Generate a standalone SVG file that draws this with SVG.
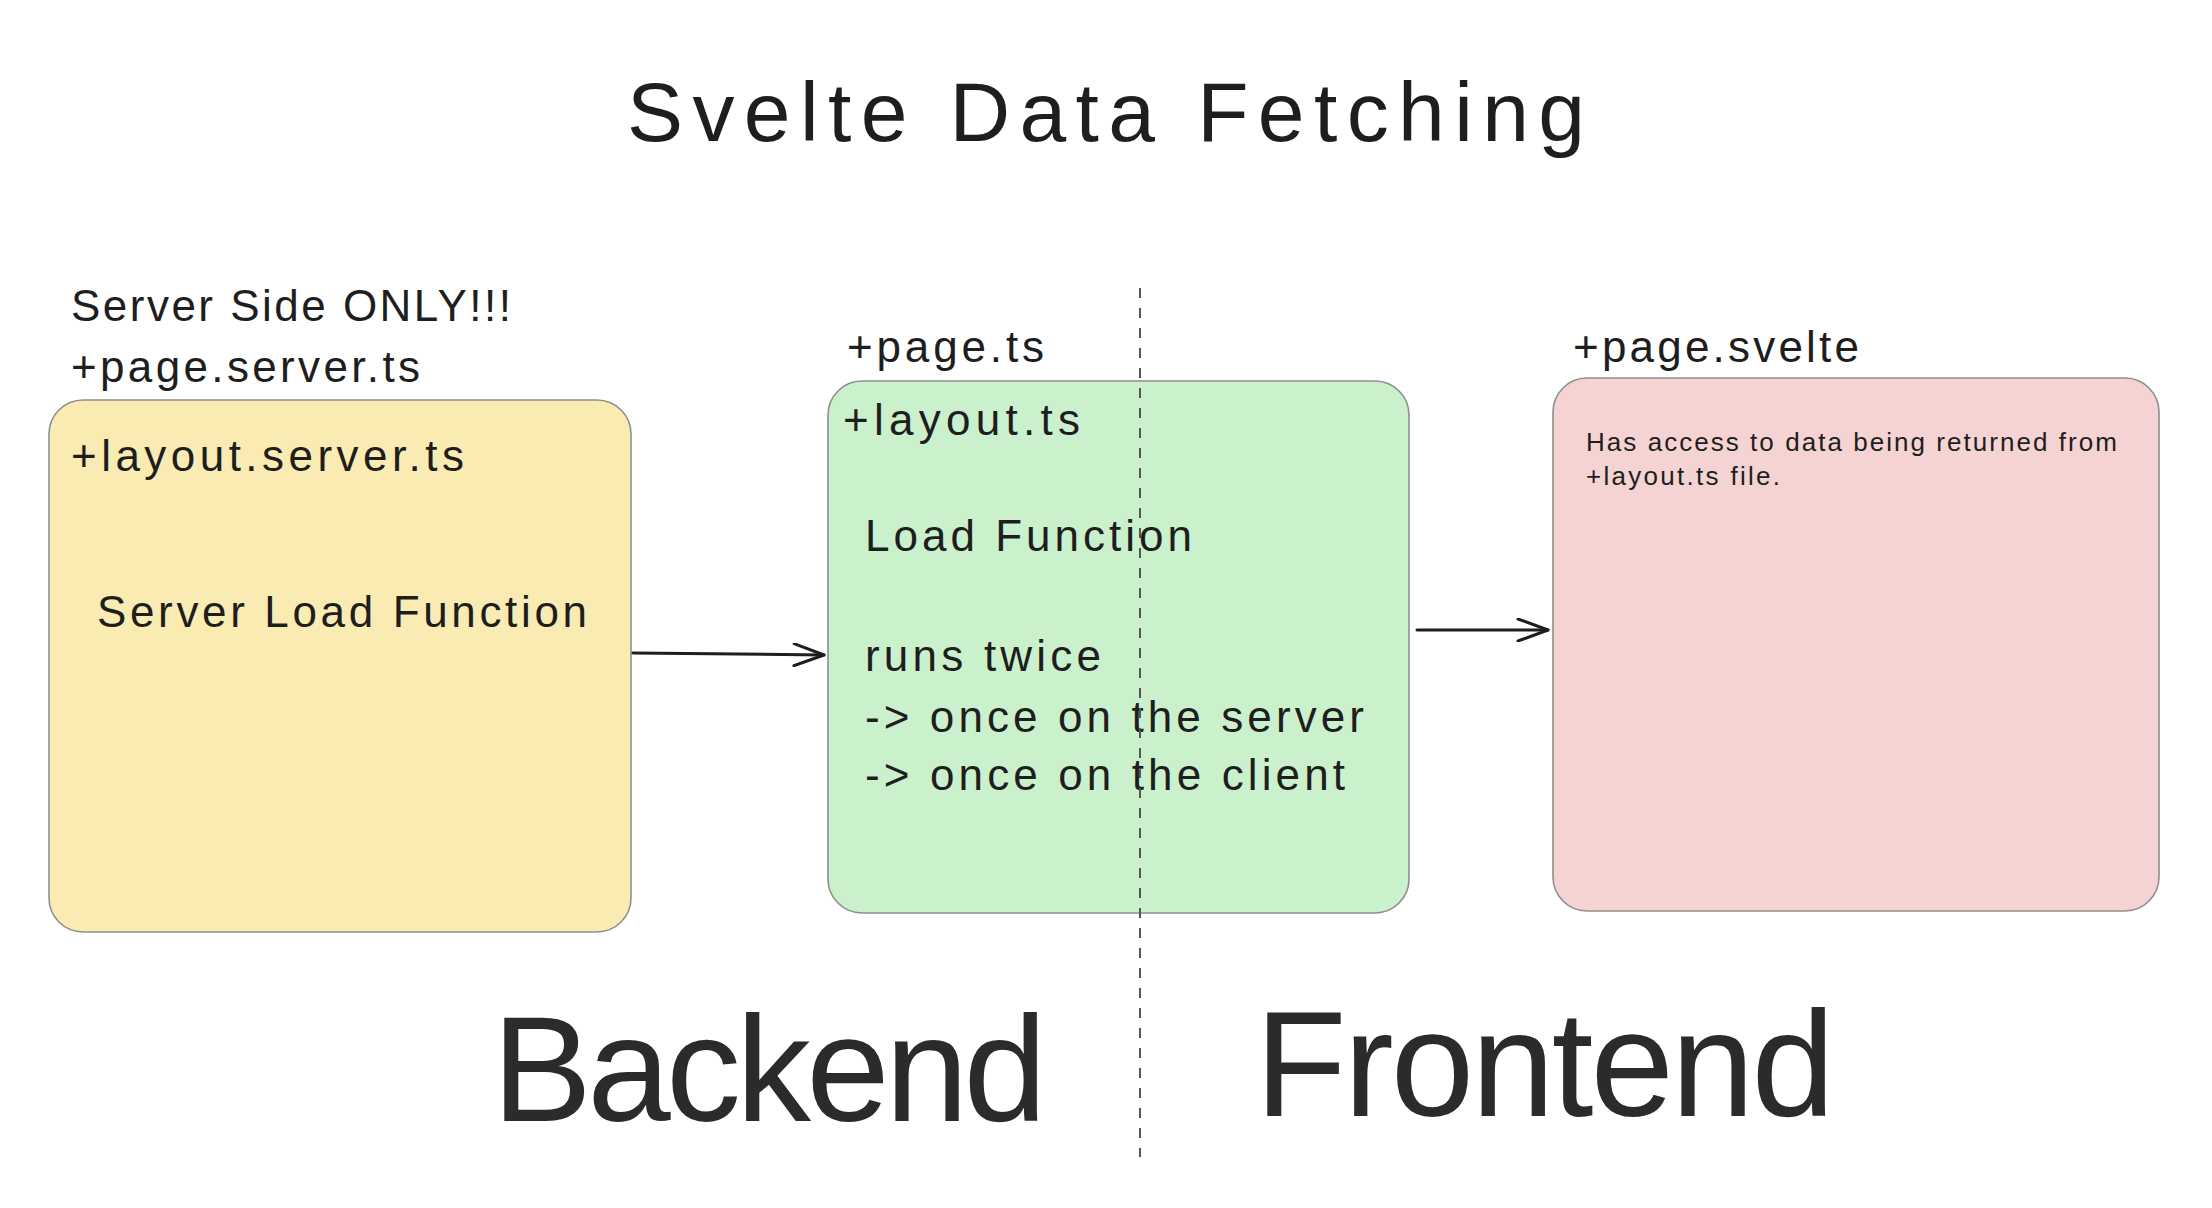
<svg xmlns="http://www.w3.org/2000/svg" width="2212" height="1208" viewBox="0 0 2212 1208">
<style>
text { font-family: "Liberation Sans", "DejaVu Sans", sans-serif; fill: #1e1e1e; }
.t-title { font-size: 84px; }
.t-big { font-size: 150px; fill: #2b2b2b; }
.t-med { font-size: 44px; }
.t-small { font-size: 26px; }
.box { stroke: #8e8e8e; stroke-width: 1.6; }
.conn { stroke: #1e1e1e; stroke-width: 3; fill: none; stroke-linecap: round; stroke-linejoin: round; }
.divider { stroke: #555555; stroke-width: 2; stroke-dasharray: 10 10; fill: none; }
</style>
<defs>
<marker id="arrow" viewBox="0 0 34 24" refX="32" refY="12" markerWidth="34" markerHeight="24" markerUnits="userSpaceOnUse" orient="auto">
<path d="M2 1 L32 12 L2 23" fill="none" stroke="#1e1e1e" stroke-width="3" stroke-linecap="round" stroke-linejoin="round"/>
</marker>
</defs>
<rect width="2212" height="1208" fill="#ffffff"/>

<text id="title" class="t-title" x="627" y="141" textLength="958">Svelte Data Fetching</text>

<g id="node-server">
<text class="t-med" x="71" y="321" textLength="440">Server Side ONLY!!!</text>
<text class="t-med" x="71" y="382" textLength="349">+page.server.ts</text>
<rect class="box" x="49" y="400" width="582" height="532" rx="34" fill="#faebb3"/>
<text class="t-med" x="71" y="471" textLength="393">+layout.server.ts</text>
<text class="t-med" x="97" y="627" textLength="490">Server Load Function</text>
</g>

<g id="node-universal">
<text class="t-med" x="847" y="362" textLength="197">+page.ts</text>
<rect class="box" x="828" y="381" width="581" height="532" rx="34" fill="#caf1cc"/>
<text class="t-med" x="843" y="435" textLength="237">+layout.ts</text>
<text class="t-med" x="865" y="551" textLength="327">Load Function</text>
<text class="t-med" x="865" y="671" textLength="236">runs twice</text>
<text class="t-med" x="865" y="732" textLength="499">-&gt; once on the server</text>
<text class="t-med" x="865" y="790" textLength="480">-&gt; once on the client</text>
</g>

<g id="node-svelte">
<text class="t-med" x="1573" y="362" textLength="286">+page.svelte</text>
<rect class="box" x="1553" y="378" width="606" height="533" rx="34" fill="#f5d3d3"/>
<text class="t-small" x="1586" y="451" textLength="531">Has access to data being returned from</text>
<text class="t-small" x="1586" y="485" textLength="194">+layout.ts file.</text>
</g>

<g id="divider">
<line class="divider" x1="1140" y1="288" x2="1140" y2="1157"/>
</g>

<g id="connectors">
<line class="conn" x1="633" y1="653" x2="824" y2="655" marker-end="url(#arrow)"/>
<line class="conn" x1="1417" y1="630" x2="1548" y2="630" marker-end="url(#arrow)"/>
</g>

<g id="labels">
<text class="t-big" x="492" y="1121" textLength="555">Backend</text>
<text class="t-big" x="1255" y="1116" textLength="580">Frontend</text>
</g>
</svg>
